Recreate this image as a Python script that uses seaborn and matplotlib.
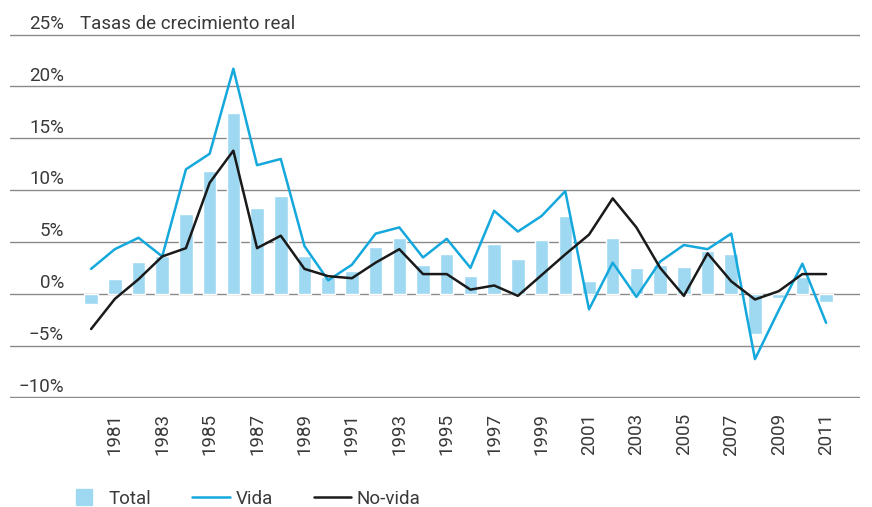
import numpy as np
import pandas as pd
import seaborn as sns
import matplotlib.pyplot as plt
from matplotlib.lines import Line2D

# Data
years = list(range(1980, 2012))
total = [-1.0, 1.4, 3.1, 3.6, 7.7, 11.8, 17.4, 8.3, 9.4, 3.6, 1.6,
         2.2, 4.5, 5.4, 2.8, 3.8, 1.7, 4.8, 3.4, 5.2, 7.5, 1.2,
         5.4, 2.5, 2.8, 2.6, 4.1, 3.8, -3.9, -0.4, 1.6, -0.8]
vida = [2.4, 4.3, 5.4, 3.6, 12.0, 13.5, 21.7, 12.4, 13.0, 4.6, 1.3,
        2.8, 5.8, 6.4, 3.5, 5.3, 2.5, 8.0, 6.0, 7.5, 9.9, -1.5,
        3.0, -0.3, 3.1, 4.7, 4.3, 5.8, -6.3, -1.6, 2.9, -2.8]
no_vida = [-3.4, -0.5, 1.4, 3.6, 4.4, 10.7, 13.8, 4.4, 5.6, 2.4, 1.7,
           1.5, 3.0, 4.3, 1.9, 1.9, 0.4, 0.8, -0.2, 1.8, 3.8, 5.7,
           9.2, 6.4, 2.5, -0.2, 3.9, 1.2, -0.55, 0.25, 1.9, 1.9]
y_ticks = [-10, -5, 0, 5, 10, 15, 20, 25]
x_ticks = list(range(1981, 2012, 2))

df = pd.DataFrame({'year': years, 'Total': total, 'Vida': vida, 'No-vida': no_vida})

sns.set_style('white')
plt.rcParams['font.family'] = ['Roboto', 'DejaVu Sans']

bar_color = '#9fd8f1'
vida_color = '#14a8dc'
novida_color = '#1a1a1a'
text_color = '#3a3a3a'
fs = 13.5

fig = plt.figure(figsize=(8.72, 5.07), dpi=100)
ax = fig.add_axes([10 / 872, 109 / 507, 850 / 872, 364 / 507])

sns.barplot(data=df, x='year', y='Total', native_scale=True, color=bar_color,
            saturation=1, width=0.57, ax=ax, zorder=2)
sns.lineplot(data=df, x='year', y='Vida', color=vida_color, linewidth=1.8, ax=ax, zorder=3)
sns.lineplot(data=df, x='year', y='No-vida', color=novida_color, linewidth=1.8, ax=ax, zorder=4)

ax.set_ylim(-10.05, 25.05)
ax.set_xlim(1976.58, 2012.43)
sns.despine(ax=ax, left=True, bottom=True, top=True, right=True)

ax.set_yticks(y_ticks)
ax.set_yticklabels([])
ax.yaxis.grid(True, color='#8a8a8a', linewidth=1.0, zorder=1)
ax.tick_params(axis='y', length=0)
ax.set_axisbelow(True)

ax.set_xticks(x_ticks)
ax.set_xticklabels([str(y) for y in x_ticks], rotation=90, fontsize=fs,
                   color=text_color)
ax.tick_params(axis='x', length=0, pad=11)
ax.set_xlabel('')
ax.set_ylabel('')

# y labels sit above the gridlines
for v in y_ticks:
    lab = f'{v}%'.replace('-', '\u2212')
    ax.text(0.0635, v + 0.55, lab, transform=ax.get_yaxis_transform(),
            ha='right', va='baseline', fontsize=fs, color=text_color)
ax.text(0.0824, 25.55, 'Tasas de crecimiento real', transform=ax.get_yaxis_transform(),
        ha='left', va='baseline', fontsize=fs, color=text_color)

handles = [
    Line2D([], [], marker='s', markersize=11, linestyle='none',
           markerfacecolor=bar_color, markeredgecolor=bar_color),
    Line2D([], [], color=vida_color, linewidth=1.8),
    Line2D([], [], color=novida_color, linewidth=1.8),
]
leg = fig.legend(handles, ['Total', 'Vida', 'No-vida'], loc='center left',
                 bbox_to_anchor=(65 / 872, 8 / 507), ncol=3, frameon=False,
                 fontsize=fs, handlelength=2.0, handletextpad=0.3,
                 columnspacing=2.2, borderaxespad=0, borderpad=0)
for t in leg.get_texts():
    t.set_color(text_color)

fig.savefig('out.png', dpi=100)
